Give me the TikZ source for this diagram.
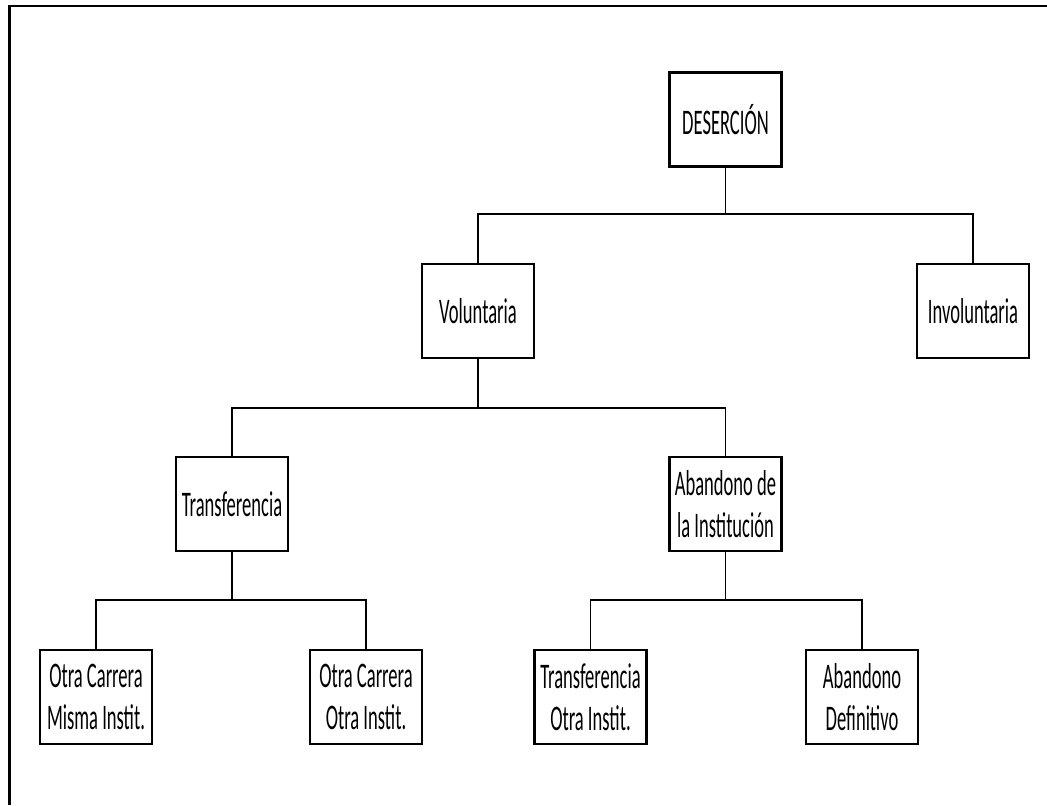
\documentclass[tikz,border=0pt]{standalone}
\usepackage{fontspec}
\setmainfont{Carlito}[FakeStretch=0.515]
\usepackage{tikz}

\tikzset{
  caja/.style={draw, line width=1.3pt, minimum width=2.24cm, minimum height=1.88cm,
    inner sep=1pt, align=center, font=\fontsize{20.5}{23.8}\selectfont},
  rama/.style={line width=1.1pt}
}

\begin{document}
\begin{tikzpicture}[x=0.02cm,y=-0.02cm]

        \useasboundingbox (0,0) rectangle (1047,805);
        \draw[line width=1.3pt] (9.5,805) -- (9.5,6.2) -- (1047,6.2);

        % nivel 1 y 2
        \node[caja] (des) at (725.5,119.5) {DESERCIÓN};
        \node[caja] (vol) at (478,311) {Voluntaria};
        \node[caja] (inv) at (973,311) {Involuntaria};

        % nivel 3
        \node[caja] (tra) at (232,504) {Transferencia};
        \node[caja] (aba) at (725.5,504) {Abandono de\\la Institución};

        % nivel 4
        \node[caja] (ocm) at (96,697) {Otra Carrera\\Misma Instit.};
        \node[caja] (oco) at (366,697) {Otra Carrera\\Otra Instit.};
        \node[caja] (toi) at (590.5,697) {Transferencia\\Otra Instit.};
        \node[caja] (def) at (862,697) {Abandono\\Definitivo};

        \coordinate (b1) at (725.5,214);
        \coordinate (b2) at (478,408);
        \coordinate (b3) at (232,600);
        \coordinate (b4) at (725.5,600);

        \draw[rama] (des.south) -- (b1);
        \draw[rama] (vol.north) |- (b1) -| (inv.north);

        \draw[rama] (vol.south) -- (b2);
        \draw[rama] (tra.north) |- (b2) -| (aba.north);

        \draw[rama] (tra.south) -- (b3);
        \draw[rama] (ocm.north) |- (b3) -| (oco.north);

        \draw[rama] (aba.south) -- (b4);
        \draw[rama] (toi.north) |- (b4) -| (def.north);

    \end{tikzpicture}
\end{document}
